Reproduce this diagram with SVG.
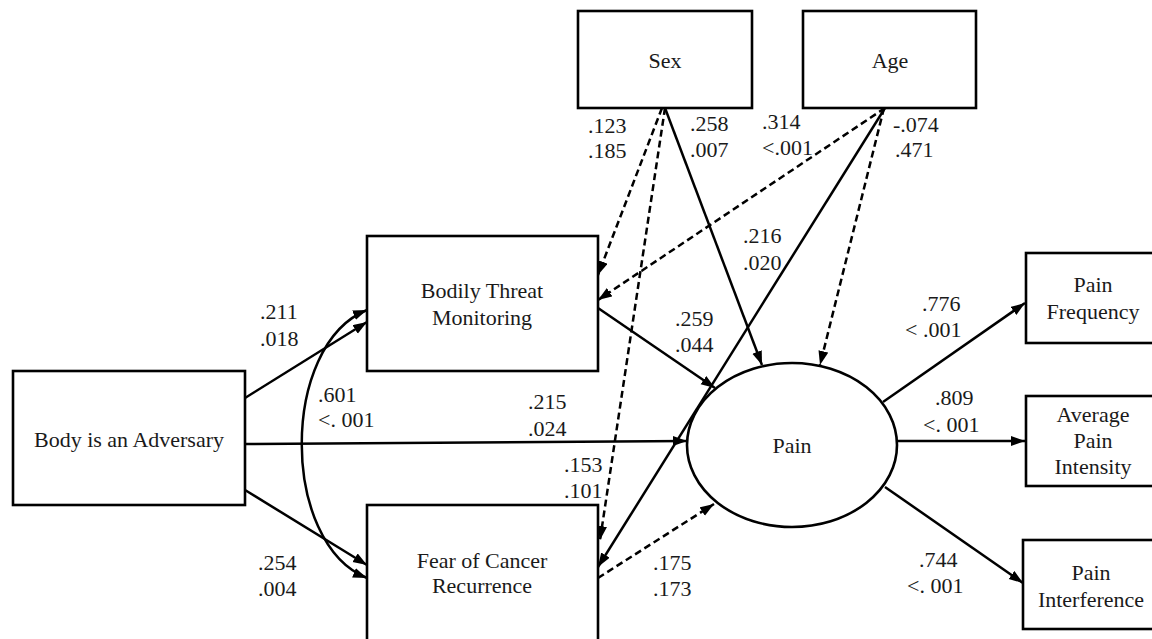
<svg xmlns="http://www.w3.org/2000/svg" width="1152" height="639" viewBox="0 0 1152 639">
<style>
.box{fill:#fff;stroke:#000;stroke-width:2.6}
.t{font-family:"Liberation Serif", serif;font-size:22px;fill:#1a1a1a}
.c{text-anchor:middle}
.ln{fill:none;stroke:#000;stroke-width:2.5}
.d{stroke-dasharray:7 4}
</style>
<defs>
<marker id="ah" markerUnits="userSpaceOnUse" markerWidth="15" markerHeight="11" refX="14" refY="5" orient="auto-start-reverse">
<path d="M0,0 L14,5 L0,10 z" fill="#000"/>
</marker>
</defs>
<rect width="1152" height="639" fill="#fff"/>

<g id="connectors">
<path class="ln" d="M245,398 L367,322" marker-end="url(#ah)"/>
<path class="ln" d="M245,490 L367,565" marker-end="url(#ah)"/>
<path class="ln" d="M245,444 L687,441" marker-end="url(#ah)"/>
<path class="ln" d="M367,310 C280,345 280,543 367,578" marker-start="url(#ah)" marker-end="url(#ah)"/>
<path class="ln" d="M598,308 L715,388" marker-end="url(#ah)"/>
<path class="ln d" d="M598,578 L714,504" marker-end="url(#ah)"/>
<path class="ln d" d="M662,108 L598,275" marker-end="url(#ah)"/>
<path class="ln d" d="M665,108 L600,540" marker-end="url(#ah)"/>
<path class="ln" d="M665,108 L762,365" marker-end="url(#ah)"/>
<path class="ln d" d="M885,108 L598,300" marker-end="url(#ah)"/>
<path class="ln" d="M885,108 L598,567" marker-end="url(#ah)"/>
<path class="ln d" d="M884,108 L820,365" marker-end="url(#ah)"/>
<path class="ln" d="M883,402 L1025,303" marker-end="url(#ah)"/>
<path class="ln" d="M897,441 L1025,441" marker-end="url(#ah)"/>
<path class="ln" d="M885,487 L1023,583" marker-end="url(#ah)"/>
</g>

<g id="sex"><rect class="box" x="578" y="11" width="174" height="97"/><text class="t c" x="665" y="68">Sex</text></g>
<g id="age"><rect class="box" x="803" y="11" width="173" height="97"/><text class="t c" x="890" y="68">Age</text></g>
<g id="body"><rect class="box" x="13" y="371" width="232" height="134"/><text class="t c" x="129" y="447">Body is an Adversary</text></g>
<g id="btm"><rect class="box" x="367" y="236" width="231" height="135"/><text class="t c" x="482" y="298">Bodily Threat</text><text class="t c" x="482" y="325">Monitoring</text></g>
<g id="fcr"><rect class="box" x="367" y="505" width="231" height="150"/><text class="t c" x="482" y="568">Fear of Cancer</text><text class="t c" x="482" y="593">Recurrence</text></g>
<g id="pain"><ellipse fill="#fff" stroke="#000" stroke-width="2.6" cx="792" cy="445" rx="105" ry="82"/><text class="t c" x="792" y="453">Pain</text></g>
<g id="pf"><rect class="box" x="1026" y="253" width="140" height="90"/><text class="t c" x="1093" y="292">Pain</text><text class="t c" x="1093" y="319">Frequency</text></g>
<g id="api"><rect class="box" x="1026" y="396" width="140" height="90"/><text class="t c" x="1093" y="422">Average</text><text class="t c" x="1093" y="448">Pain</text><text class="t c" x="1093" y="474">Intensity</text></g>
<g id="pi"><rect class="box" x="1023" y="540" width="140" height="89"/><text class="t c" x="1091" y="580">Pain</text><text class="t c" x="1091" y="607">Interference</text></g>

<g id="labels" class="t">
<text x="588" y="133">.123</text><text x="588" y="158">.185</text>
<text x="690" y="131">.258</text><text x="690" y="157">.007</text>
<text x="762" y="129">.314</text><text x="762" y="155">&lt;.001</text>
<text x="893" y="132">-.074</text><text x="895" y="157">.471</text>
<text x="743" y="243">.216</text><text x="743" y="270">.020</text>
<text x="260" y="319">.211</text><text x="260" y="346">.018</text>
<text x="318" y="402">.601</text><text x="318" y="427">&lt;. 001</text>
<text x="258" y="570">.254</text><text x="258" y="596">.004</text>
<text x="675" y="326">.259</text><text x="675" y="352">.044</text>
<text x="528" y="409">.215</text><text x="528" y="436">.024</text>
<text x="564" y="472">.153</text><text x="564" y="498">.101</text>
<text x="653" y="570">.175</text><text x="653" y="596">.173</text>
<text x="922" y="311">.776</text><text x="905" y="337">&lt; .001</text>
<text x="935" y="405">.809</text><text x="923" y="432">&lt;. 001</text>
<text x="919" y="567">.744</text><text x="907" y="593">&lt;. 001</text>
</g>
</svg>
